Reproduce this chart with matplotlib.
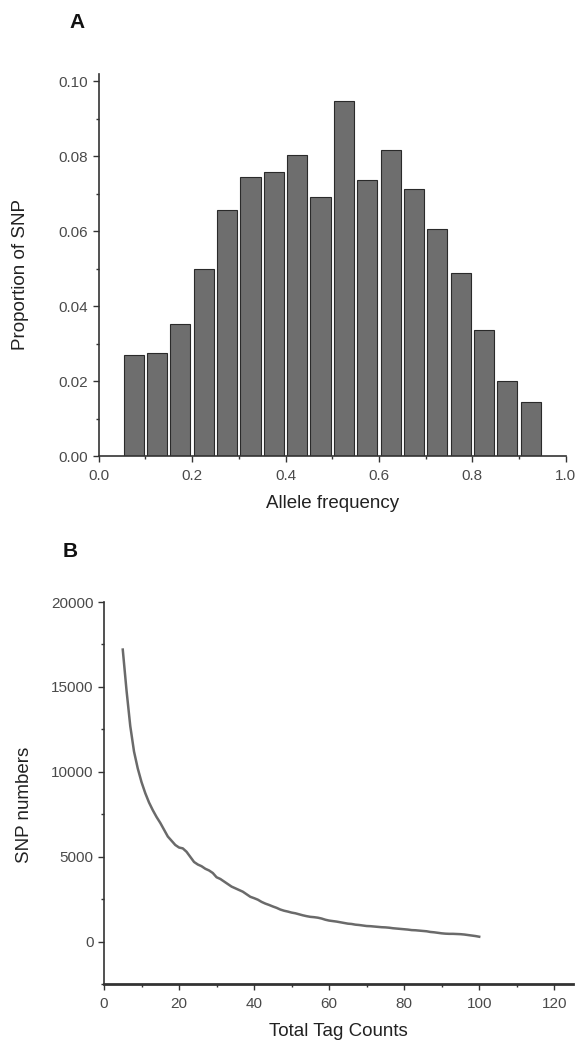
import matplotlib
matplotlib.use("Agg")
import matplotlib.pyplot as plt
from matplotlib.ticker import MultipleLocator, FormatStrFormatter

plt.rcParams['font.family'] = ['Liberation Sans', 'DejaVu Sans']

# ---- Panel A data ----
bin_centers = [0.075, 0.125, 0.175, 0.225, 0.275, 0.325, 0.375, 0.425, 0.475,
               0.525, 0.575, 0.625, 0.675, 0.725, 0.775, 0.825, 0.875, 0.925]
proportions = [0.0270, 0.0274, 0.0353, 0.0499, 0.0656, 0.0746, 0.0758, 0.0804, 0.0692,
               0.0947, 0.0736, 0.0816, 0.0713, 0.0606, 0.0488, 0.0337, 0.0200, 0.0143]

# ---- Panel B data ----
tag_counts = list(range(5, 101))
snp_numbers = [17200, 14800, 12700, 11200, 10200, 9400, 8750, 8200, 7750, 7350,
               7000, 6600, 6200, 5950, 5700, 5550, 5500, 5300, 5000, 4700,
               4550, 4450, 4300, 4200, 4050, 3800, 3700, 3550, 3400, 3250,
               3150, 3050, 2950, 2800, 2650, 2570, 2480, 2350, 2250, 2170,
               2080, 2000, 1900, 1830, 1780, 1720, 1680, 1620, 1560, 1510,
               1470, 1450, 1420, 1370, 1300, 1250, 1220, 1190, 1150, 1110,
               1070, 1050, 1010, 990, 960, 930, 920, 900, 880, 860,
               850, 830, 800, 780, 760, 740, 720, 690, 680, 660,
               640, 620, 580, 560, 530, 500, 480, 470, 470, 460,
               450, 430, 400, 370, 340, 300]

W, H = 577, 1044
fig = plt.figure(figsize=(W / 100, H / 100), dpi=100)

spine_col = '#333333'
tick_col = '#4a4a4a'
label_col = '#222222'

def style(ax):
    for s in ['top', 'right']:
        ax.spines[s].set_visible(False)
    for s in ['left', 'bottom']:
        ax.spines[s].set_color(spine_col)
        ax.spines[s].set_linewidth(1.2)
    ax.tick_params(which='major', direction='out', length=4.5, width=1.0,
                   color=spine_col, labelcolor=tick_col, labelsize=11, pad=3)
    ax.tick_params(which='minor', direction='out', length=2.5, width=1.0,
                   color=spine_col)
    ax.tick_params(axis='x', which='major', pad=4.5)

# Panel A
axA = fig.add_axes([98.7 / W, 1 - 456 / H, (565.7 - 98.7) / W, (456 - 74) / H])
axA.bar(bin_centers, proportions, width=0.043, color='#6e6e6e',
        edgecolor='#2a2a2a', linewidth=0.8)
axA.set_xlim(0, 1.0)
axA.set_ylim(0, 0.102)
axA.xaxis.set_major_locator(MultipleLocator(0.2))
axA.xaxis.set_minor_locator(MultipleLocator(0.1))
axA.yaxis.set_major_locator(MultipleLocator(0.02))
axA.yaxis.set_minor_locator(MultipleLocator(0.01))
axA.xaxis.set_major_formatter(FormatStrFormatter('%.1f'))
axA.yaxis.set_major_formatter(FormatStrFormatter('%.2f'))
style(axA)
axA.set_xlabel('Allele frequency', fontsize=13.5, color=label_col, labelpad=9)
axA.set_ylabel('Proportion of SNP', fontsize=13.5, color=label_col)
axA.yaxis.set_label_coords((29 - 98.7) / 467, (456 - 275) / 382)
fig.text(77 / W, 1 - 22 / H, 'A', fontsize=15, fontweight='bold',
         ha='center', va='center', color='#111111')

# Panel B
axB = fig.add_axes([104 / W, 1 - 984.3 / H, (573 - 104) / W, (984.3 - 602) / H])
axB.plot(tag_counts, snp_numbers, color='#6a6a6a', linewidth=1.8)
axB.set_xlim(0, 125)
axB.set_ylim(-2500, 20000)
axB.xaxis.set_major_locator(MultipleLocator(20))
axB.xaxis.set_minor_locator(MultipleLocator(10))
axB.yaxis.set_major_locator(MultipleLocator(5000))
axB.yaxis.set_minor_locator(MultipleLocator(2500))
style(axB)
axB.spines['bottom'].set_linewidth(2.0)
axB.set_yticks([0, 5000, 10000, 15000, 20000])
axB.set_xlabel('Total Tag Counts', fontsize=13.5, color=label_col, labelpad=9)
axB.set_ylabel('SNP numbers', fontsize=13.5, color=label_col)
axB.yaxis.set_label_coords((33 - 104) / 469, (984.3 - 805) / 382.3)
fig.text(70 / W, 1 - 551.7 / H, 'B', fontsize=15, fontweight='bold',
         ha='center', va='center', color='#111111')

fig.savefig('out.png', dpi=100)
